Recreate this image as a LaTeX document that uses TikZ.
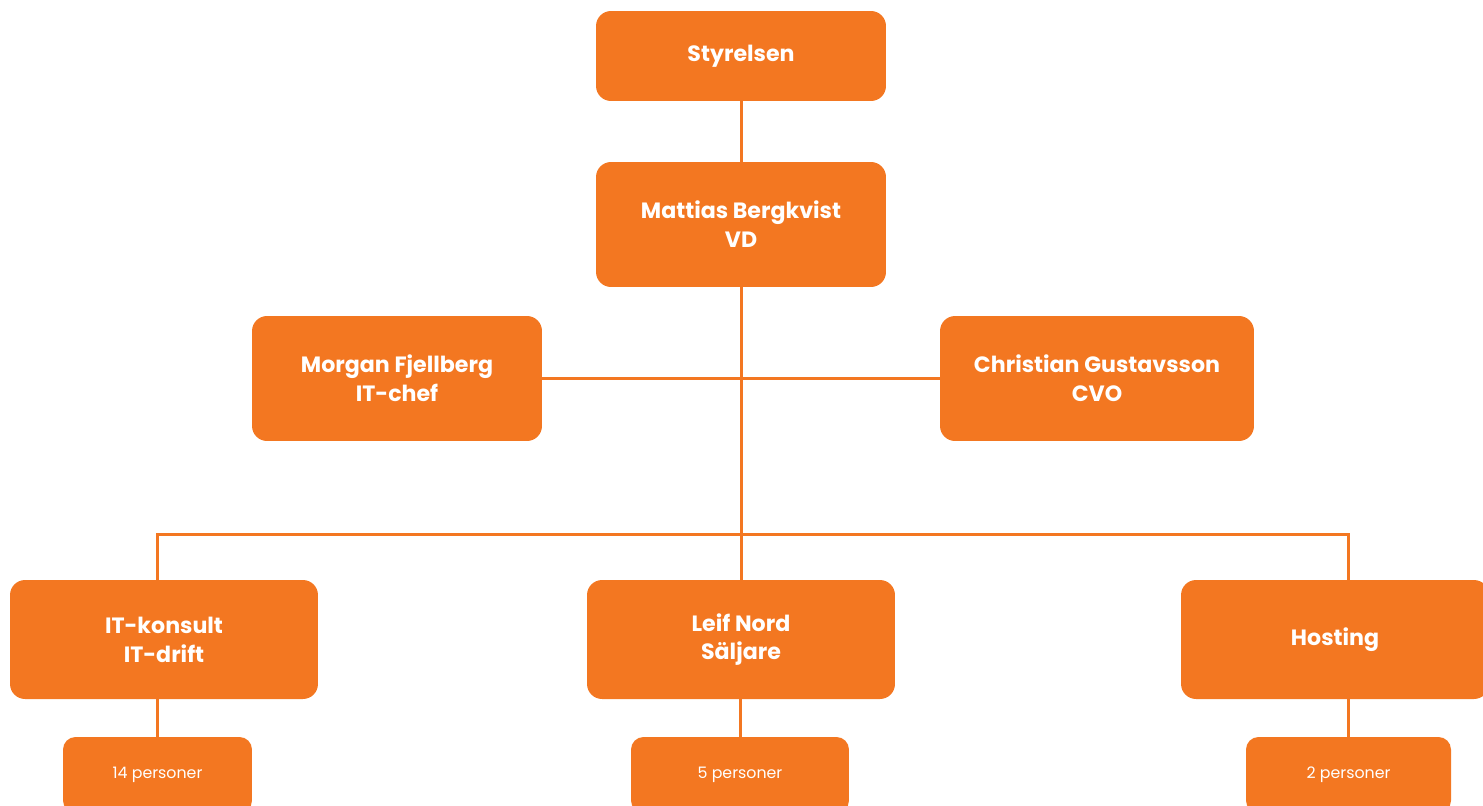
\documentclass[tikz,border=0pt]{standalone}
\usepackage{fontspec}
\setmainfont{Poppins}
\definecolor{orgorange}{HTML}{F37721}
\begin{document}
\begin{tikzpicture}[x=0.02cm,y=-0.02cm,
  box/.style={fill=orgorange,rounded corners=0.3cm,text=white,align=center,
    font=\fontsize{12.6}{16.4}\selectfont\bfseries,inner sep=0pt},
  staff/.style={fill=orgorange,rounded corners=0.25cm,text=white,align=center,
    font=\fontsize{9}{10}\selectfont,inner sep=0pt,minimum height=76*0.02cm},
  link/.style={draw=orgorange,line width=1.7pt}]
\useasboundingbox (0,0) rectangle (1483,805);
\clip (0,0) rectangle (1483,805);

\node[box,minimum width=5.8cm,minimum height=1.8cm] (styrelsen) at (741,56) {Styrelsen};
\node[box,minimum width=5.8cm,minimum height=2.5cm] (vd) at (741,224.5) {Mattias Bergkvist\\VD};
\node[box,minimum width=5.8cm,minimum height=2.5cm] (itchef) at (397,378.5) {Morgan Fjellberg\\IT-chef};
\node[box,minimum width=6.28cm,minimum height=2.5cm] (cvo) at (1097,378.5) {Christian Gustavsson\\CVO};

\node[box,minimum width=6.16cm,minimum height=2.38cm] (itkonsult) at (164,639.5) {IT-konsult\\IT-drift};
\node[box,minimum width=6.16cm,minimum height=2.38cm] (saljare) at (741,639.5) {Leif Nord\\Säljare};
\node[box,minimum width=6.16cm,minimum height=2.38cm] (hosting) at (1335,639.5) {Hosting};

\node[staff,minimum width=3.78cm] (itstaff) at (157.5,775) {14 personer};
\node[staff,minimum width=4.36cm] (saljstaff) at (740,775) {5 personer};
\node[staff,minimum width=4.1cm] (hoststaff) at (1348.5,775) {2 personer};

\path[link] (styrelsen) -- (vd);
\path[link] (vd) -- (saljare);
\path[link] (itchef) -- (cvo);
\path[link] (itstaff.north |- itkonsult.north) -- ++(0,-45) -| (hoststaff.north |- hosting.north);
\path[link] (itstaff.north |- itkonsult.south) -- (itstaff.north);
\path[link] (saljstaff.north |- saljare.south) -- (saljstaff.north);
\path[link] (hoststaff.north |- hosting.south) -- (hoststaff.north);
\end{tikzpicture}
\end{document}
